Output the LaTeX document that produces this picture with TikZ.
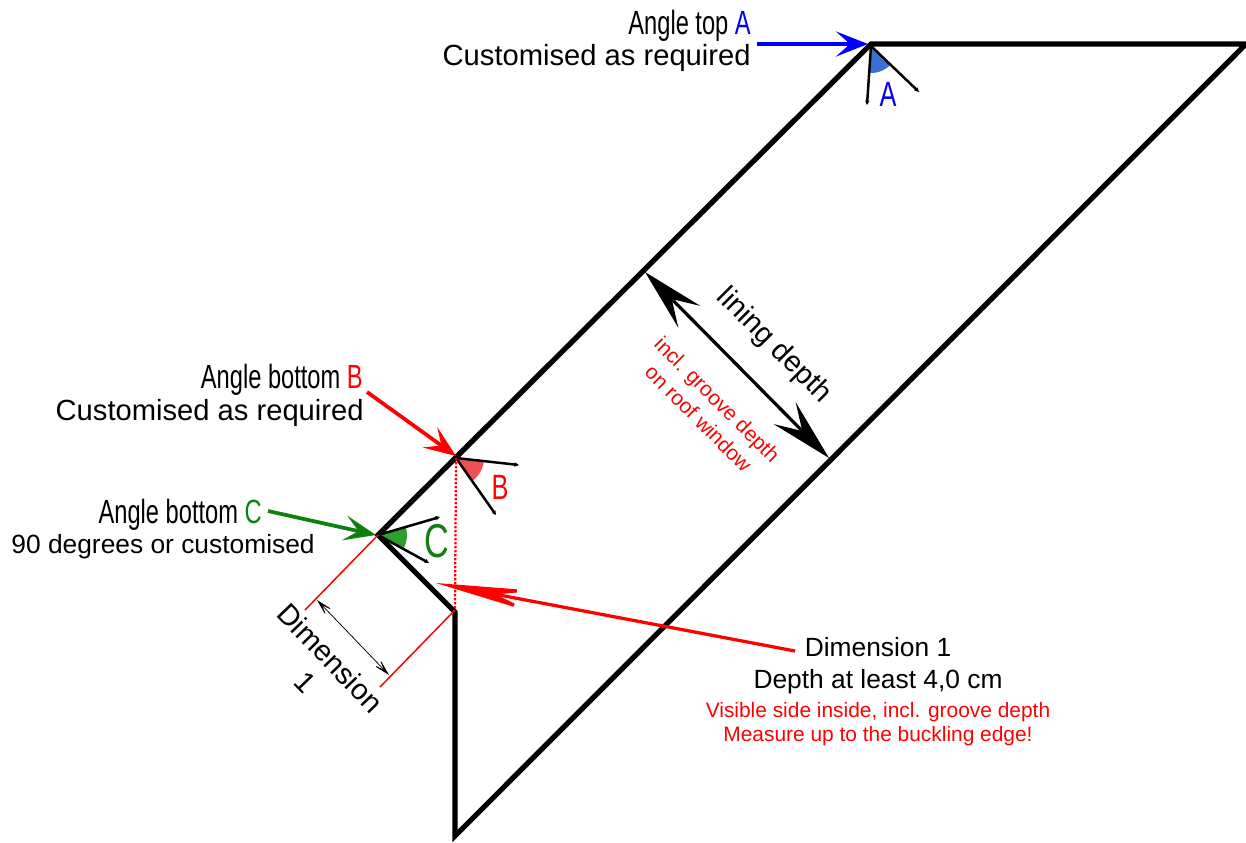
\documentclass[tikz,border=0pt]{standalone}
\usepackage{fontspec}
\setmainfont{Liberation Sans}
\usetikzlibrary{arrows.meta, calc}

\definecolor{wedgeA}{HTML}{3C70D0}
\definecolor{wedgeB}{HTML}{EC5156}
\definecolor{wedgeC}{HTML}{2CA02C}
\definecolor{darkgreen}{HTML}{0F7F0F}

\begin{document}
\begin{tikzpicture}[
  x=0.02cm, y=-0.02cm,
  every node/.style={inner sep=0pt},
  frame/.style={line width=0.105cm, line cap=round, line join=miter},
  ray/.style={line width=0.05cm, -{Stealth[length=0.09cm, width=0.09cm]}},
  bigtip/.style={line width=0.075cm, -{Stealth[length=0.64cm, width=0.5cm, inset=0.28cm]}},
  title/.style={font=\fontsize{18.2}{20}\selectfont, xscale=0.74, yscale=1.05},
  sub/.style={font=\fontsize{16.6}{19}\selectfont},
  smallsub/.style={font=\fontsize{15}{18}\selectfont},
  redsub/.style={font=\fontsize{11.9}{14}\selectfont, red, align=center}
]
\useasboundingbox (0,0) rectangle (1246,842);

% ---- OUTLINE ----
\coordinate (foot) at (455,836);
\coordinate (knee) at (455,612);
\coordinate (c) at (378,535);
\coordinate (b) at (456,458);
\coordinate (a) at (871,44);
\coordinate (tip) at (1246,44);
\draw[frame] (knee) -- (c) -- (a) -- (tip) -- (foot) -- cycle;

% ---- ANGLE A ----
\coordinate (a0) at (871,46);
\fill[wedgeA] (a0) -- +(94:27) arc[start angle=94, end angle=44, radius=27] -- cycle;
\coordinate (a1) at (867,105);
\coordinate (a2) at (919,92);
\draw[ray] (a0) -- (a1);
\draw[ray] (a0) -- (a2);
\node[font=\fontsize{20}{20}\selectfont, blue, xscale=0.72] (labela) at (888,94) {A};

% ---- ANGLE B ----
\fill[wedgeB] (b) -- +(6:28) arc[start angle=6, end angle=55, radius=28] -- cycle;
\coordinate (b1) at (519,465);
\coordinate (b2) at (496,515);
\draw[ray] (b) -- (b1);
\draw[ray] (b) -- (b2);
\node[font=\fontsize{20}{20}\selectfont, red, xscale=0.72] (labelb) at (500,487) {B};

% ---- ANGLE C ----
\fill[wedgeC] (c) -- +(-16:29) arc[start angle=-16, end angle=29, radius=29] -- cycle;
\coordinate (c1) at (440,517);
\coordinate (c2) at (429,563);
\draw[ray] (c) -- (c1);
\draw[ray] (c) -- (c2);
\node[font=\fontsize{27}{27}\selectfont, darkgreen, xscale=0.72] (labelc) at (437,541) {C};

% ---- DIMENSION 1 ----
\coordinate (dimc) at (305,610);
\coordinate (dimk) at (380,687);
\coordinate (knee0) at (455,610);
\draw[red, line width=0.03cm] (c) -- (dimc);
\draw[red, line width=0.03cm] (knee0) -- (dimk);
\draw[red, line width=0.045cm, densely dotted] (b) -- (knee0);
\coordinate (dim1) at (317,600);
\coordinate (dim2) at (389,675);
\draw[line width=0.015cm, {Stealth[length=0.44cm, width=0.22cm, inset=0.3cm]}-{Stealth[length=0.44cm, width=0.22cm, inset=0.3cm]}] (dim1) -- (dim2);
\node[sub, rotate=-46, align=center] (dimlabel) at (318,670) {Dimension\\[1pt]1};

% ---- LINING DEPTH ----
\coordinate (line1) at (645,272);
\coordinate (line2) at (829,458);
\draw[line width=0.065cm, {Stealth[length=1.26cm, width=0.62cm, inset=0.5cm]}-{Stealth[length=1.26cm, width=0.62cm, inset=0.5cm]}] (line1) -- (line2);
\node[sub, rotate=-45] (depthlabel) at (774,346) {lining depth};
\node[redsub, rotate=-45] (groove) at (708,409) {incl. groove depth\\[1pt]on roof window};

% ---- CALLOUT A ----
\node[title, anchor=east] (topa) at (751,26) {Angle top \textcolor{blue}{A}};
\node[sub, anchor=east] (customa) at (751,58) {Customised as required};
\coordinate (froma) at (757,44);
\coordinate (toa) at (868,44);
\draw[bigtip, blue] (froma) -- (toa);

% ---- CALLOUT B ----
\node[title, anchor=east] (topb) at (363,380) {Angle bottom \textcolor{red}{B}};
\node[sub, anchor=east] (customb) at (364,413) {Customised as required};
\coordinate (fromb) at (367,392);
\coordinate (tob) at (456,456);
\draw[bigtip, red] (fromb) -- (tob);

% ---- CALLOUT C ----
\node[title, anchor=east] (topc) at (262,515) {Angle bottom \textcolor{darkgreen}{C}};
\node[smallsub, anchor=east] (customc) at (315,547) {90 degrees or customised};
\coordinate (fromc) at (268,511);
\coordinate (toc) at (376,535);
\draw[bigtip, darkgreen] (fromc) -- (toc);

% ---- CALLOUT DIMENSION ----
\node[smallsub] (dimtitle) at (878,647) {Dimension 1};
\node[smallsub] (dimdepth) at (878,682) {Depth at least 4,0 cm};
\node[redsub] (dimred) at (878,724) {Visible side inside, incl. groove depth\\[0pt]Measure up to the buckling edge!};
\coordinate (fromd) at (795,651);
\coordinate (tod) at (436,583);
\draw[line width=0.065cm, red, -{Stealth[length=2cm, width=0.44cm, inset=0.78cm]}] (fromd) -- (tod);

\end{tikzpicture}
\end{document}
